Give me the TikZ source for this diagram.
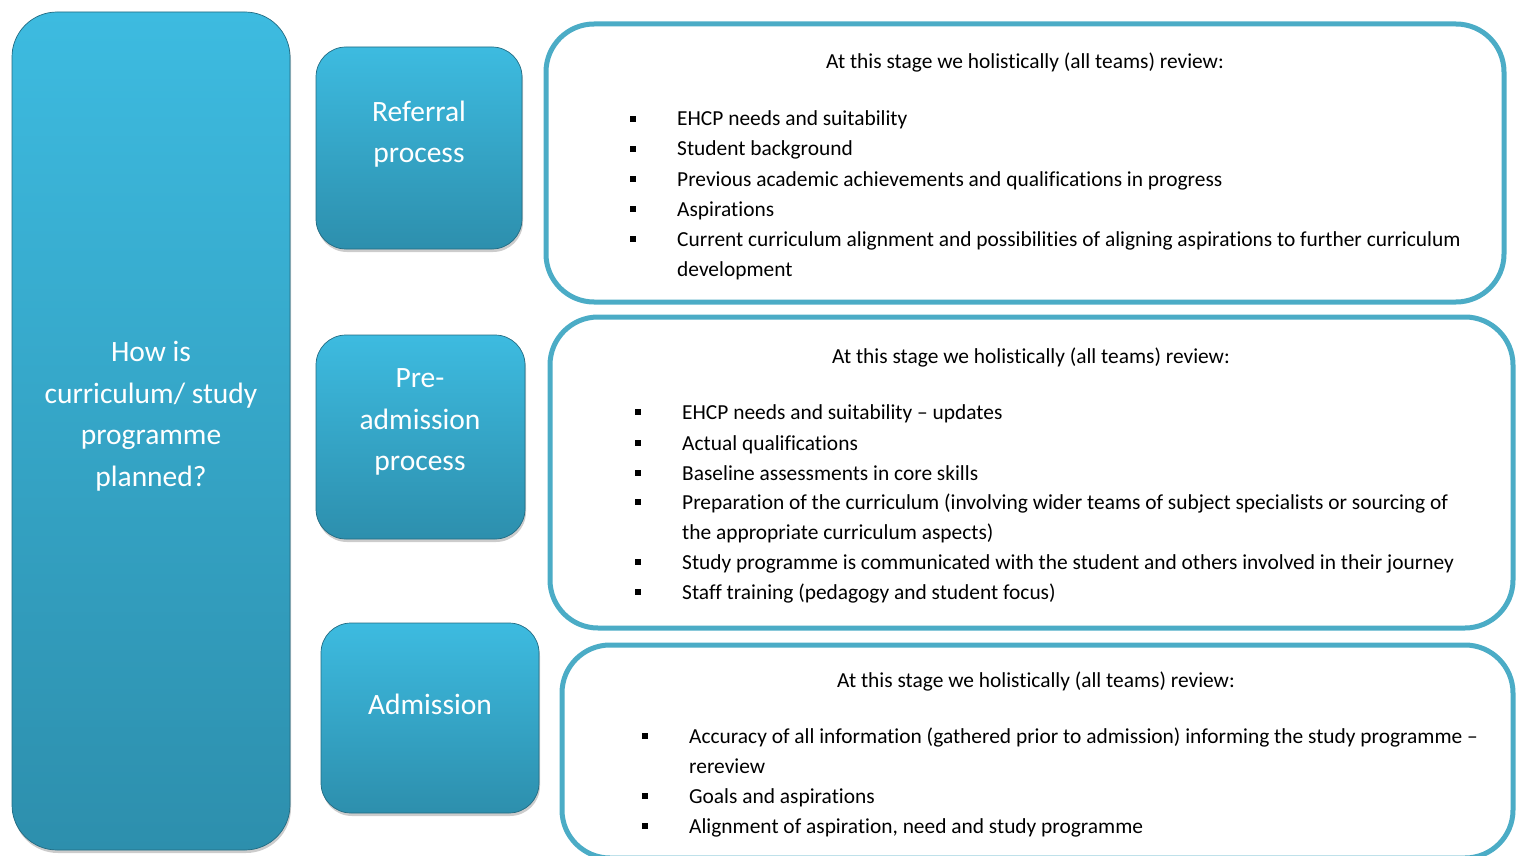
\documentclass[tikz,border=0pt]{standalone}
\usepackage{fontspec}
\setmainfont[RawFeature=-liga]{Carlito}
\usetikzlibrary{shadows}
\definecolor{bordc}{HTML}{4BACC6}
\definecolor{topc}{HTML}{3DBBE0}
\definecolor{botc}{HTML}{2D8FAD}
\tikzset{
  stagebox/.style={rounded corners=#1, top color=topc, bottom color=botc, draw=botc!75!black, line width=0.7pt,
    drop shadow={opacity=0.4, shadow xshift=1pt, shadow yshift=-3pt}},
  reviewbox/.style={rounded corners=48pt, draw=bordc, line width=5pt, fill=white},
  wtext/.style={text=white, font=\fontsize{29.5}{41.5}\selectfont, align=center, inner sep=0pt},
  ttl/.style={anchor=base, font=\fontsize{21.4}{30}\selectfont, inner sep=0pt},
  itm/.style={anchor=base west, font=\fontsize{21.4}{30}\selectfont, inner sep=0pt},
  bsq/.style={fill=black, minimum size=5.5pt, inner sep=0pt, draw=none}
}
\begin{document}
\begin{tikzpicture}[x=1pt,y=-1pt]
\useasboundingbox (0,0) rectangle (1519,856);
% left stage boxes
\draw[stagebox=45pt] (12,12) rectangle (290,850);
\node[wtext] (q) at (151,416) {How is\\curriculum/ study\\programme\\planned?};
\draw[stagebox=30pt] (316,47) rectangle (522,249);
\node[wtext] (ref) at (419,134) {Referral\\process};
\draw[stagebox=30pt] (316,335) rectangle (525,539);
\node[wtext] (pre) at (420,422) {Pre-\\admission\\process};
\draw[stagebox=30pt] (321,623) rectangle (539,813);
\node[wtext] (adm) at (430,704) {Admission};
% review boxes
\draw[reviewbox] (546,24) rectangle (1504,302);
\draw[reviewbox] (550,317) rectangle (1513,628);
\draw[reviewbox] (562,645) rectangle (1513,858);
% box 1
\node[ttl] (t1) at (1025,69) {At this stage we holistically (all teams) review:};
\foreach \yy/\txt [count=\i] in {126/EHCP needs and suitability, 156/Student background, 186/Previous academic achievements and qualifications in progress, 216/Aspirations, 246/Current curriculum alignment and possibilities of aligning aspirations to further curriculum}{
  \node[bsq] (b1\i) at (633,\yy-7) {};
  \node[itm] (i1\i) at (677,\yy) {\txt};
}
\node[itm] (i1c) at (677,276) {development};
% box 2
\node[ttl] (t2) at (1031,363) {At this stage we holistically (all teams) review:};
\foreach \yy/\txt [count=\i] in {419/EHCP needs and suitability – updates, 450/Actual qualifications, 480/Baseline assessments in core skills, 509/Preparation of the curriculum (involving wider teams of subject specialists or sourcing of, 569/Study programme is communicated with the student and others involved in their journey, 599/Staff training (pedagogy and student focus)}{
  \node[bsq] (b2\i) at (638,\yy-7) {};
  \node[itm] (i2\i) at (682,\yy) {\txt};
}
\node[itm] (i2c) at (682,539) {the appropriate curriculum aspects)};
% box 3
\node[ttl] (t3) at (1036,687) {At this stage we holistically (all teams) review:};
\foreach \yy/\txt [count=\i] in {743/Accuracy of all information (gathered prior to admission) informing the study programme –, 803/Goals and aspirations, 833/{Alignment of aspiration, need and study programme}}{
  \node[bsq] (b3\i) at (645,\yy-7) {};
  \node[itm] (i3\i) at (689,\yy) {\txt};
}
\node[itm] (i3c) at (689,773) {rereview};
\end{tikzpicture}
\end{document}
